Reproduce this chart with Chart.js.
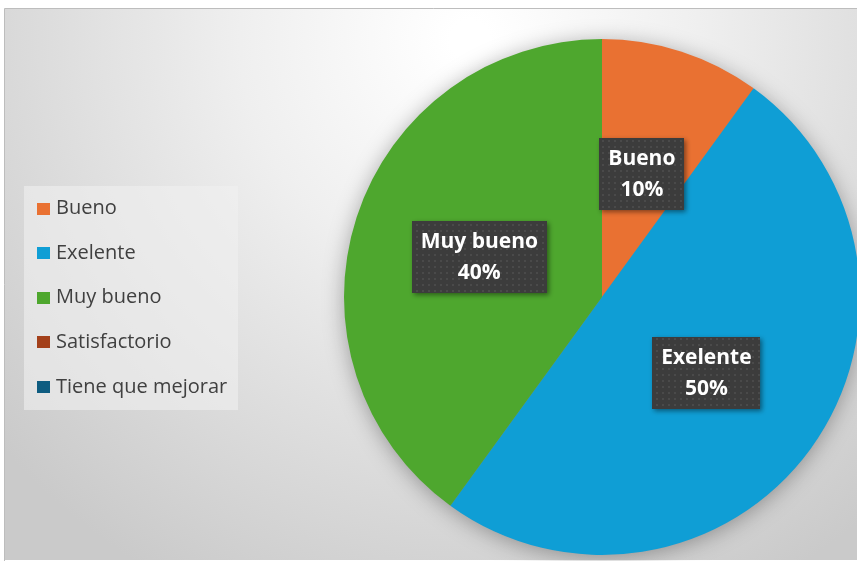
<!DOCTYPE html>
<html lang="es">
<head>
<meta charset="utf-8">
<title>Valoración</title>
<script src="https://cdn.jsdelivr.net/npm/chart.js@4.4.1/dist/chart.umd.min.js"></script>
<style>
  html, body { margin: 0; padding: 0; background: #ffffff; overflow: hidden; }
  #grafico { display: block; }
</style>
</head>
<body>
<canvas id="grafico" width="862" height="561"></canvas>
<script>
const categorias = ['Bueno', 'Exelente', 'Muy bueno', 'Satisfactorio', 'Tiene que mejorar'];
const porcentajes = [10, 50, 40, 0, 0];
const colores = ['#E97132', '#0F9ED5', '#4EA72E', '#A3401A', '#0E5C80'];

const FUENTE = '"Open Sans", "DejaVu Sans", sans-serif';

// fondo gris con degradado radial, como el área del gráfico de Excel
const fondo = {
  id: 'fondo',
  beforeDraw(chart) {
    const ctx = chart.ctx;
    const w = chart.width, h = chart.height;
    ctx.save();
    ctx.fillStyle = '#ffffff';
    ctx.fillRect(0, 0, w, h);
    const g = ctx.createRadialGradient(470, 40, 20, 470, 40, 620);
    g.addColorStop(0, '#ffffff');
    g.addColorStop(0.35, '#efefef');
    g.addColorStop(1, '#cacaca');
    ctx.fillStyle = g;
    ctx.fillRect(5, 8, w - 5, h - 9);
    ctx.strokeStyle = '#bdbdbd';
    ctx.lineWidth = 1;
    ctx.beginPath();
    ctx.moveTo(4.5, h);
    ctx.lineTo(4.5, 8.5);
    ctx.lineTo(w, 8.5);
    ctx.stroke();
    ctx.restore();
  }
};

// sombra difusa alrededor del círculo
const sombraPie = {
  id: 'sombraPie',
  beforeDatasetsDraw(chart) {
    const arc = chart.getDatasetMeta(0).data[0];
    if (!arc) return;
    const ctx = chart.ctx;
    ctx.save();
    ctx.shadowColor = 'rgba(0, 0, 0, 0.35)';
    ctx.shadowBlur = 22;
    ctx.shadowOffsetY = 3;
    ctx.fillStyle = '#888888';
    ctx.beginPath();
    ctx.arc(arc.x, arc.y, arc.outerRadius - 1, 0, Math.PI * 2);
    ctx.fill();
    ctx.restore();
  }
};

// trama de puntos para las cajas de etiquetas
function tramaPuntos(ctx) {
  const c = document.createElement('canvas');
  c.width = 6; c.height = 6;
  const p = c.getContext('2d');
  p.fillStyle = '#3c3c3c';
  p.fillRect(0, 0, 6, 6);
  p.fillStyle = '#4a4a4a';
  p.fillRect(2, 2, 2, 2);
  return ctx.createPattern(c, 'repeat');
}

// etiquetas de categoría y porcentaje en cajas oscuras
const etiquetas = {
  id: 'etiquetas',
  afterDatasetsDraw(chart) {
    const ctx = chart.ctx;
    const meta = chart.getDatasetMeta(0);
    const datos = chart.data.datasets[0].data;
    const relleno = tramaPuntos(ctx);
    ctx.save();
    ctx.font = 'bold 21px ' + FUENTE;
    ctx.textAlign = 'center';
    ctx.textBaseline = 'middle';
    meta.data.forEach((arc, i) => {
      if (!datos[i]) return;
      const pos = arc.getCenterPoint();
      const l1 = chart.data.labels[i];
      const l2 = datos[i] + '%';
      const ancho = Math.max(ctx.measureText(l1).width, ctx.measureText(l2).width) + 18;
      const alto = 72;
      const x0 = Math.round(pos.x - ancho / 2), y0 = Math.round(pos.y - alto / 2);
      ctx.save();
      ctx.shadowColor = 'rgba(0, 0, 0, 0.45)';
      ctx.shadowBlur = 5;
      ctx.shadowOffsetX = 2;
      ctx.shadowOffsetY = 2;
      ctx.fillStyle = relleno;
      ctx.fillRect(x0, y0, Math.round(ancho), alto);
      ctx.restore();
      ctx.fillStyle = '#ffffff';
      ctx.fillText(l1, pos.x, pos.y - 15);
      ctx.fillText(l2, pos.x, pos.y + 16);
    });
    ctx.restore();
  }
};

// leyenda a la izquierda dentro de un recuadro claro
const leyenda = {
  id: 'leyenda',
  afterDraw(chart) {
    const ctx = chart.ctx;
    ctx.save();
    ctx.fillStyle = 'rgba(240, 240, 240, 0.6)';
    ctx.fillRect(24, 186, 214, 224);
    ctx.font = '20px ' + FUENTE;
    ctx.textBaseline = 'middle';
    ctx.textAlign = 'left';
    chart.data.labels.forEach((nombre, i) => {
      const y = 208.5 + i * 44.6;
      ctx.fillStyle = colores[i];
      ctx.fillRect(37, Math.round(y - 6), 13, 12);
      ctx.fillStyle = '#404040';
      ctx.fillText(nombre, 56, y);
    });
    ctx.restore();
  }
};

new Chart(document.getElementById('grafico'), {
  type: 'pie',
  data: {
    labels: categorias,
    datasets: [{
      data: porcentajes,
      backgroundColor: colores,
      borderWidth: 0
    }]
  },
  options: {
    responsive: false,
    animation: false,
    layout: { padding: { left: 344, top: 38, right: 2, bottom: 5 } },
    plugins: {
      legend: { display: false },
      tooltip: { enabled: false }
    }
  },
  plugins: [fondo, sombraPie, etiquetas, leyenda]
});
</script>
</body>
</html>
